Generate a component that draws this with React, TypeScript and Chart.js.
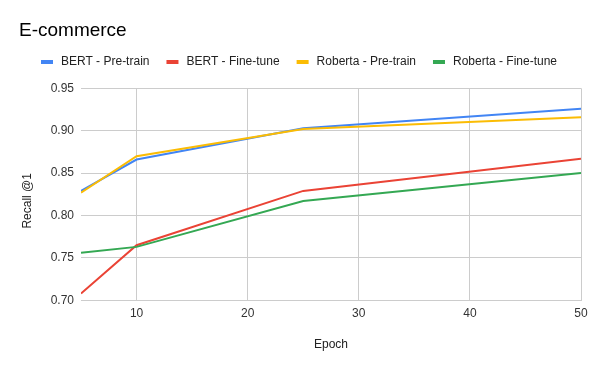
import React, { useEffect, useRef } from 'react';
import { Chart, registerables } from 'chart.js';

Chart.register(...registerables);

// ---- data ----
const epochs = [5, 10, 25, 50];
const bertPretrain = [0.829, 0.866, 0.903, 0.926];
const bertFinetune = [0.708, 0.765, 0.829, 0.867];
const robertaPretrain = [0.827, 0.870, 0.902, 0.916];
const robertaFinetune = [0.756, 0.763, 0.817, 0.850];

const seriesNames = ['BERT - Pre-train', 'BERT - Fine-tune', 'Roberta - Pre-train', 'Roberta - Fine-tune'];
const seriesColors = ['#4285F4', '#EA4335', '#FBBC04', '#34A853'];
const seriesValues = [bertPretrain, bertFinetune, robertaPretrain, robertaFinetune];

const xTicks = [10, 20, 30, 40, 50];
const yTicks = [0.70, 0.75, 0.80, 0.85, 0.90, 0.95];

const chartTitle = 'E-commerce';
const xTitle = 'Epoch';
const yTitle = 'Recall @1';

const FONT = '"Liberation Sans", Arial, sans-serif';

const legendPlugin = {
  id: 'sheetsLegend',
  afterDraw(chart: any) {
    const ctx = chart.ctx;
    ctx.save();
    ctx.font = `12px ${FONT}`;
    ctx.textBaseline = 'middle';
    ctx.textAlign = 'left';
    let x = 41;
    const y = 62;
    chart.data.datasets.forEach((ds: any) => {
      ctx.fillStyle = ds.borderColor;
      ctx.fillRect(x, y - 2, 12, 4);
      x += 20;
      ctx.fillStyle = '#222222';
      ctx.fillText(ds.label, x, y);
      x += ctx.measureText(ds.label).width + 17;
    });
    // y-axis title, rotated
    const area = chart.chartArea;
    ctx.translate(28, (area.top + area.bottom) / 2 + 6.5);
    ctx.rotate(-Math.PI / 2);
    ctx.textAlign = 'center';
    ctx.textBaseline = 'middle';
    ctx.fillStyle = '#222222';
    ctx.fillText(yTitle, 0, 0);
    ctx.restore();
  },
};

export default function App() {
  const canvasRef = useRef<HTMLCanvasElement | null>(null);

  useEffect(() => {
    if (!canvasRef.current) return;
    Chart.defaults.font.family = FONT;
    const chart = new Chart(canvasRef.current, {
      type: 'line',
      data: {
        datasets: seriesNames.map((name, i) => ({
          label: name,
          data: epochs.map((e, j) => ({ x: e, y: seriesValues[i][j] })),
          borderColor: seriesColors[i],
          backgroundColor: seriesColors[i],
          borderWidth: 2,
          pointRadius: 0,
          pointHoverRadius: 0,
          tension: 0,
          fill: false,
          order: seriesNames.length - i,
        })),
      },
      options: {
        animation: false,
        responsive: false,
        maintainAspectRatio: false,
        layout: { padding: { top: 0, left: 19, right: 19, bottom: 19 } },
        plugins: {
          legend: { display: false },
          tooltip: { enabled: false },
          title: {
            display: true,
            text: chartTitle,
            align: 'start',
            color: '#000000',
            font: { family: FONT, size: 19, weight: 'normal' },
            padding: { top: 19, bottom: 46.5 },
          },
        },
        scales: {
          x: {
            type: 'linear',
            min: 5,
            max: 50,
            afterBuildTicks: (scale: any) => {
              scale.ticks = xTicks.map((v) => ({ value: v }));
            },
            afterFit: (scale: any) => {
              scale.height = 51.7;
            },
            grid: { color: '#cccccc', drawTicks: false, lineWidth: 1 },
            border: { display: true, color: '#cccccc' },
            ticks: {
              padding: 6,
              color: '#333333',
              font: { family: FONT, size: 12 },
              maxRotation: 0,
            },
            title: {
              display: true,
              text: xTitle,
              color: '#222222',
              font: { family: FONT, size: 12 },
              padding: { top: 0, bottom: 0 },
            },
          },
          y: {
            type: 'linear',
            min: 0.7,
            max: 0.95,
            afterBuildTicks: (scale: any) => {
              scale.ticks = yTicks.map((v) => ({ value: v }));
            },
            afterFit: (scale: any) => {
              scale.width = 62;
            },
            grid: { color: '#cccccc', drawTicks: false, lineWidth: 1 },
            border: { display: false },
            ticks: {
              padding: 7,
              color: '#333333',
              font: { family: FONT, size: 12 },
              callback: (v: any) => Number(v).toFixed(2),
            },
            title: { display: false },
          },
        },
      },
      plugins: [legendPlugin],
    });
    return () => chart.destroy();
  }, []);

  return (
    <div style={{ position: 'absolute', left: 0, top: 0, width: 600, height: 371, background: '#ffffff' }}>
      <canvas ref={canvasRef} width={600} height={371} style={{ display: 'block', width: 600, height: 371 }} />
    </div>
  );
}
